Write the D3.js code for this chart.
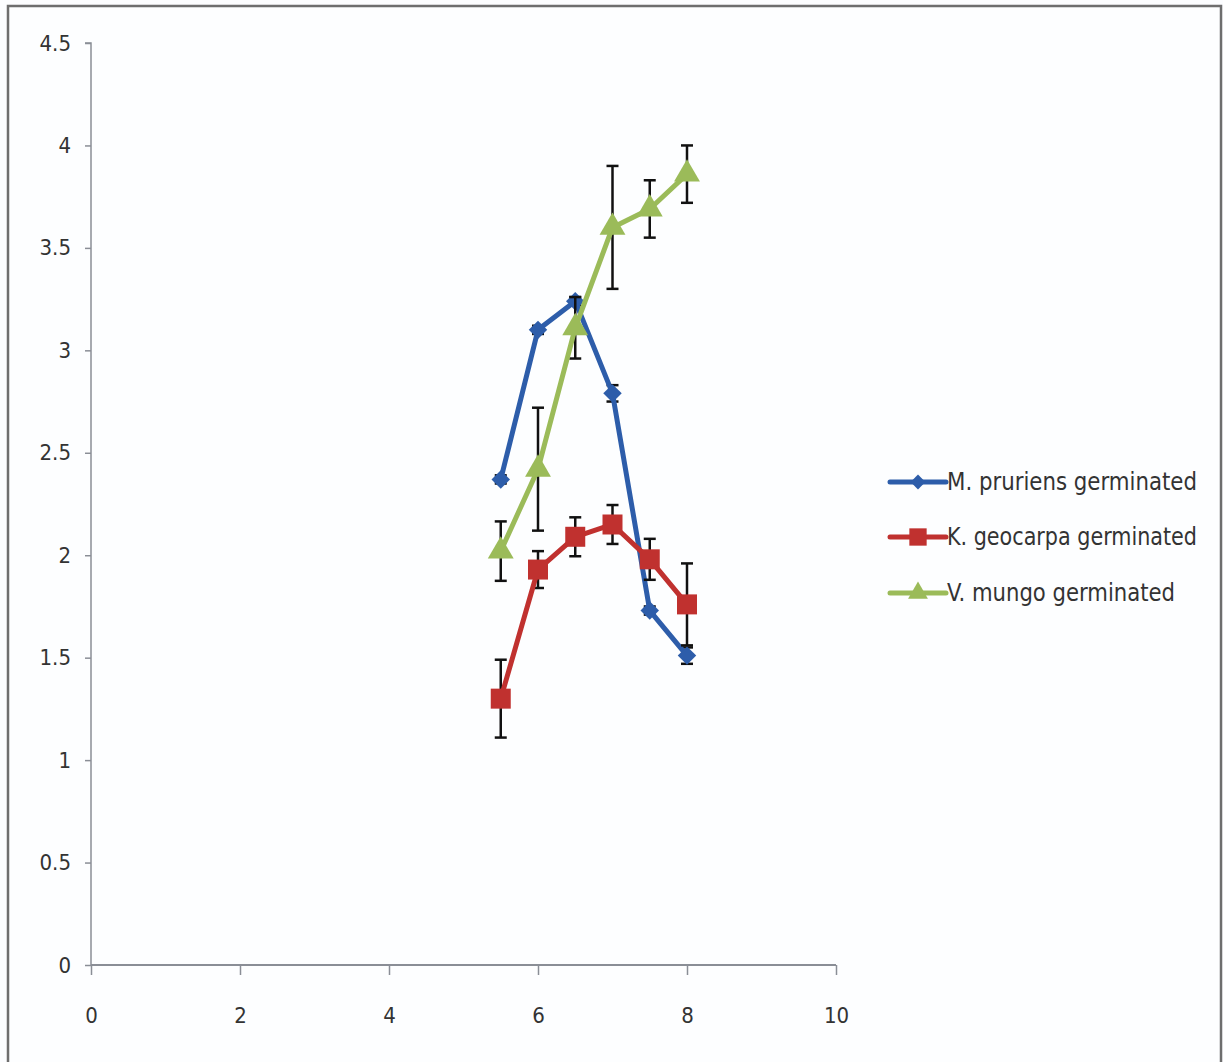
<!DOCTYPE html>
<html>
<head>
<meta charset="utf-8">
<script src="https://cdn.jsdelivr.net/npm/d3@7"></script>
<style>
  html, body { margin: 0; padding: 0; background: #fcfdff; }
  svg { display: block; }
</style>
</head>
<body>
<svg id="chart" width="1223" height="1062"></svg>
<script>
// Germination time course (x) vs measured value (y), three legumes
const xValues = [5.5, 6, 6.5, 7, 7.5, 8];

const pruriensMean = [2.37, 3.10, 3.24, 2.79, 1.73, 1.51];
const pruriensErr  = [0.02, 0.02, 0.02, 0.04, 0.02, 0.04];

const geocarpaMean = [1.30, 1.93, 2.09, 2.15, 1.98, 1.76];
const geocarpaErr  = [0.19, 0.09, 0.095, 0.095, 0.10, 0.20];

const mungoMean = [2.02, 2.42, 3.11, 3.60, 3.69, 3.86];
const mungoErr  = [0.145, 0.30, 0.15, 0.30, 0.14, 0.14];

const seriesNames = ["M. pruriens germinated", "K. geocarpa germinated", "V. mungo germinated"];
const seriesColors = ["#2D5DAA", "#C0312F", "#9BBB59"];
const seriesShapes = ["diamond", "square", "triangle"];

const xTicks = [0, 2, 4, 6, 8, 10];
const yTicks = [0, 0.5, 1, 1.5, 2, 2.5, 3, 3.5, 4, 4.5];

const series = [
  { name: seriesNames[0], mean: pruriensMean, err: pruriensErr, color: seriesColors[0], shape: seriesShapes[0] },
  { name: seriesNames[1], mean: geocarpaMean, err: geocarpaErr, color: seriesColors[1], shape: seriesShapes[1] },
  { name: seriesNames[2], mean: mungoMean, err: mungoErr, color: seriesColors[2], shape: seriesShapes[2] }
].map(s => ({ ...s, points: xValues.map((x, i) => ({ x, y: s.mean[i], e: s.err[i] })) }));

const svg = d3.select("#chart");
const font = "'DejaVu Sans Condensed', 'Open Sans', sans-serif";

// outer frame
svg.append("rect")
  .attr("x", 8).attr("y", 6).attr("width", 1213).attr("height", 1070)
  .attr("fill", "#fdfeff").attr("stroke", "#6e6e6e").attr("stroke-width", 2.5);

const x = d3.scaleLinear().domain([0, 10]).range([91, 836]);
const y = d3.scaleLinear().domain([0, 4.5]).range([965, 43]);

// y axis
const yAxis = svg.append("g")
  .attr("transform", `translate(${x(0)},0)`)
  .call(d3.axisLeft(y).tickValues(yTicks).tickSize(6).tickPadding(14)
    .tickFormat(d => d3.format("")(d)));
yAxis.selectAll("path, line").attr("stroke", "#8a8e96").attr("stroke-width", 1.5);
yAxis.select(".domain").attr("d", `M-6,${y(4.5)}H0V${y(0)}`);
yAxis.selectAll("text").attr("font-family", font).attr("font-size", 22).attr("fill", "#333");

// x axis
const xAxis = svg.append("g")
  .attr("transform", `translate(0,${y(0)})`)
  .call(d3.axisBottom(x).tickValues(xTicks).tickSize(10).tickPadding(32));
xAxis.selectAll("path, line").attr("stroke", "#8a8e96").attr("stroke-width", 1.5);
xAxis.select(".domain").attr("d", `M${x(0)},0H${x(10)}`).attr("stroke-width", 2);
xAxis.selectAll("text").attr("font-family", font).attr("font-size", 22).attr("fill", "#333");

const line = d3.line().x(d => x(d.x)).y(d => y(d.y));

// markers: diamond = square rotated by 45 degrees
const markerPath = {
  diamond: d3.symbol().type(d3.symbolSquare).size(170)(),
  square: d3.symbol().type(d3.symbolSquare).size(400)(),
  triangle: d3.symbol().type(d3.symbolTriangle).size(290)()
};
const markerRotate = { diamond: 45, square: 0, triangle: 0 };

// draw in order: error bars under each series' line and markers
series.forEach(s => {
  const g = svg.append("g");
  const eb = g.selectAll("g.eb").data(s.points).join("g").attr("class", "eb");
  eb.append("line")
    .attr("x1", d => x(d.x)).attr("x2", d => x(d.x))
    .attr("y1", d => y(d.y + d.e)).attr("y2", d => y(d.y - d.e))
    .attr("stroke", "#111").attr("stroke-width", 2.5);
  eb.append("line")
    .attr("x1", d => x(d.x) - 6).attr("x2", d => x(d.x) + 6)
    .attr("y1", d => y(d.y + d.e)).attr("y2", d => y(d.y + d.e))
    .attr("stroke", "#111").attr("stroke-width", 2.5);
  eb.append("line")
    .attr("x1", d => x(d.x) - 6).attr("x2", d => x(d.x) + 6)
    .attr("y1", d => y(d.y - d.e)).attr("y2", d => y(d.y - d.e))
    .attr("stroke", "#111").attr("stroke-width", 2.5);

  g.append("path").datum(s.points)
    .attr("d", line).attr("fill", "none")
    .attr("stroke", s.color).attr("stroke-width", 5).attr("stroke-linejoin", "round");

  g.selectAll("path.mk").data(s.points).join("path").attr("class", "mk")
    .attr("d", markerPath[s.shape])
    .attr("transform", d => `translate(${x(d.x)},${y(d.y)}) rotate(${markerRotate[s.shape]})`)
    .attr("fill", s.color);
});

// legend
const legendY = [482, 537, 593];
const legendWidths = [250, 250, 228];
const legendMarker = {
  diamond: d3.symbol().type(d3.symbolSquare).size(110)(),
  square: d3.symbol().type(d3.symbolSquare).size(300)(),
  triangle: d3.symbol().type(d3.symbolTriangle).size(170)()
};
const legend = svg.append("g");
series.forEach((s, i) => {
  const ly = legendY[i];
  legend.append("line")
    .attr("x1", 890).attr("x2", 946).attr("y1", ly).attr("y2", ly)
    .attr("stroke", s.color).attr("stroke-width", 5).attr("stroke-linecap", "round");
  legend.append("path").attr("d", legendMarker[s.shape])
    .attr("transform", `translate(918,${ly}) rotate(${markerRotate[s.shape]})`)
    .attr("fill", s.color);
  legend.append("text")
    .attr("x", 947).attr("y", ly + 8)
    .attr("font-family", font).attr("font-size", 24).attr("fill", "#333")
    .attr("textLength", legendWidths[i]).attr("lengthAdjust", "spacingAndGlyphs")
    .text(s.name);
});
</script>
</body>
</html>
